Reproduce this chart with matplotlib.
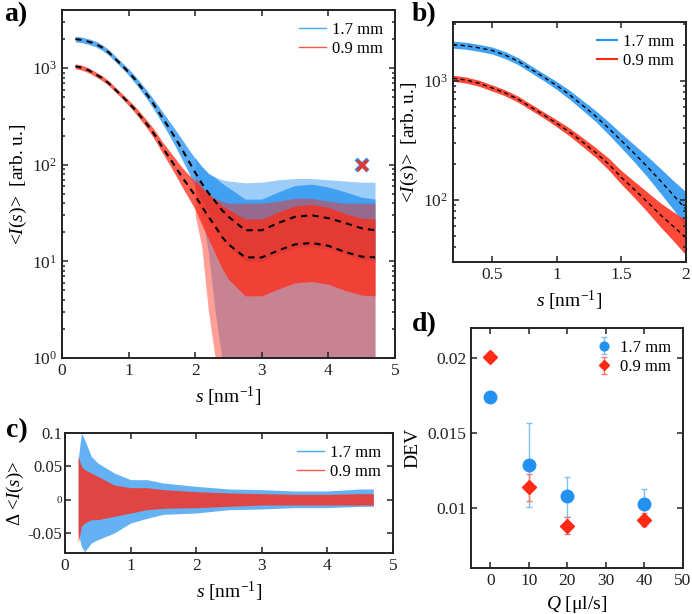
import numpy as np
import matplotlib
matplotlib.use("Agg")
from matplotlib import pyplot as plt
from matplotlib.lines import Line2D

plt.rcParams['font.family'] = ['Liberation Serif', 'DejaVu Serif']
plt.rcParams['mathtext.fontset'] = 'custom'
plt.rcParams['mathtext.rm'] = 'Liberation Serif'
plt.rcParams['mathtext.it'] = 'Liberation Serif:italic'
plt.rcParams['axes.linewidth'] = 1.4
plt.rcParams['axes.edgecolor'] = '#222222'

BLUE = '#2291f0'
RED = '#ff2a16'

s = [0.2, 0.3, 0.4, 0.5, 0.6, 0.7, 0.8, 0.9, 1.0, 1.1, 1.2, 1.3, 1.4, 1.5, 1.6, 1.7, 1.8, 1.9, 2.0,
     2.1, 2.2, 2.3, 2.4, 2.5, 2.75, 3.0, 3.25, 3.5, 3.75, 4.0, 4.25, 4.5, 4.7]
blue_fit = [2000, 1960, 1880, 1790, 1640, 1460, 1250, 1070, 910, 760, 620, 505, 400, 313, 245, 190, 145, 110, 83,
            64, 51, 42, 34, 29, 21, 21, 25, 29, 30, 28, 25, 22, 21]
red_fit = [1045, 1010, 950, 868, 790, 700, 600, 515, 438, 370, 305, 250, 200, 154, 122, 96, 75, 60, 48,
           37, 29, 23, 18, 15, 11, 11, 13, 15, 15.5, 14.5, 12.5, 11.2, 11]
# spread of the noisy traces around the fits (multiplicative)
blue_spread = [1.07, 1.07, 1.07, 1.07, 1.07, 1.07, 1.07, 1.07, 1.08, 1.09, 1.1, 1.11, 1.13, 1.15, 1.18, 1.22, 1.27, 1.32, 1.4,
               1.5, 1.6, 1.75, 1.9, 2.0, 2.1, 2.1, 2.1, 2.1, 2.1, 2.1, 2.1, 2.1, 2.1]
red_spread = [1.06, 1.06, 1.06, 1.06, 1.06, 1.06, 1.06, 1.06, 1.07, 1.08, 1.09, 1.1, 1.12, 1.14, 1.17, 1.21, 1.26, 1.32, 1.4,
              1.55, 1.7, 1.9, 2.1, 2.3, 2.5, 2.5, 2.5, 2.5, 2.5, 2.5, 2.5, 2.5, 2.5]
# extent of the sparse spikes at high s
s_spk = [2.0, 2.1, 2.2, 2.3, 2.4, 2.5, 2.75, 3.0, 3.25, 3.5, 3.75, 4.0, 4.25, 4.5, 4.7]
blue_spk_hi = [120, 95, 80, 75, 70, 68, 65, 66, 70, 72, 72, 70, 68, 66, 66]
blue_spk_lo = [55, 30, 12, 3, 1, 1, 1, 1, 1, 1, 1, 1, 1, 1, 1]
red_spk_hi = [75, 60, 50, 45, 42, 40, 40, 40, 42, 45, 45, 42, 40, 40, 40]
red_spk_lo = [30, 14, 3, 1, 1, 1, 1, 1, 1, 1, 1, 1, 1, 1, 1]

# residuals (panel c)
s_c = [0.2, 0.25, 0.3, 0.4, 0.5, 0.75, 1.0, 1.25, 1.5, 2.0, 2.5, 3.0, 3.5, 4.0, 4.5, 4.7]
res_blue_hi = [0.06, 0.1, 0.09, 0.065, 0.055, 0.04, 0.03, 0.03, 0.025, 0.02, 0.016, 0.015, 0.013, 0.013, 0.016, 0.016]
res_blue_lo = [-0.05, -0.07, -0.078, -0.065, -0.06, -0.05, -0.035, -0.028, -0.022, -0.02, -0.015, -0.014, -0.012, -0.012, -0.01, -0.01]
res_red_hi = [0.065, 0.05, 0.045, 0.04, 0.035, 0.022, 0.018, 0.018, 0.015, 0.012, 0.01, 0.009, 0.008, 0.008, 0.009, 0.009]
res_red_lo = [-0.065, -0.04, -0.035, -0.03, -0.03, -0.025, -0.02, -0.015, -0.013, -0.012, -0.01, -0.008, -0.008, -0.008, -0.008, -0.008]

# DEV vs flow rate (panel d)
Q = [0, 10, 20, 40]
dev_blue = [0.0174, 0.0129, 0.0108, 0.0103]
dev_blue_up = [0.0001, 0.0028, 0.0013, 0.0010]
dev_blue_dn = [0.0001, 0.0028, 0.0014, 0.0010]
dev_red = [0.0201, 0.0114, 0.0088, 0.0092]
dev_red_up = [0.0003, 0.0009, 0.0006, 0.0005]
dev_red_dn = [0.0003, 0.0009, 0.0005, 0.0004]

W, H = 692, 614
fig = plt.figure(figsize=(W / 100, H / 100), dpi=100)

bf, rf = np.array(blue_fit), np.array(red_fit)
bsp, rsp = np.array(blue_spread), np.array(red_spread)


def box(l, r, t, b):
    return [l / W, 1 - b / H, (r - l) / W, (b - t) / H]


def style(ax):
    ax.tick_params(direction='in', which='both', top=True, right=True, labelsize=12.5,
                   length=4, width=1.1, colors='#222222')
    ax.tick_params(which='minor', length=2.5)


ylab = r'<$I$($s$)>  [arb. u.]'
xlab = r'$s$ [nm$^{\mathregular{-1}}$]'
dash = (0, (3, 2.5))

# a)
ax = fig.add_axes(box(62, 395, 10, 358))
ax.fill_between(s_spk, blue_spk_lo, blue_spk_hi, color=BLUE, alpha=0.45, lw=0)
ax.fill_between(s, bf / bsp, bf * bsp, color=BLUE, alpha=0.75, lw=0)
ax.fill_between(s_spk, red_spk_lo, red_spk_hi, color=RED, alpha=0.45, lw=0)
ax.fill_between(s, rf / rsp, rf * rsp, color=RED, alpha=0.75, lw=0)
ax.plot(s, blue_fit, ls=dash, color='k', lw=1.5)
ax.plot(s, red_fit, ls=dash, color='k', lw=1.5)
ax.plot([4.5], [100], 'x', color=BLUE, ms=8, mew=3)
ax.plot([4.5], [100], 'x', color=RED, ms=7, mew=2.5, alpha=0.85)
ax.set_yscale('log')
ax.set_xlim(0, 5)
ax.set_ylim(1, 4000)
ax.set_xlabel(xlab, fontsize=14)
ax.set_ylabel(ylab, fontsize=14, labelpad=2)
style(ax)
h = [Line2D([], [], color=BLUE, lw=1, alpha=0.8), Line2D([], [], color=RED, lw=1, alpha=0.8)]
ax.legend(h, ['1.7 mm', '0.9 mm'], loc='upper right', frameon=False, fontsize=12,
          handlelength=1.6, handletextpad=0.4, borderaxespad=0.3, labelspacing=0.2)

# b)
ax = fig.add_axes(box(453, 686, 22, 262))
ax.fill_between(s, bf / bsp, bf * bsp, color=BLUE, alpha=0.85, lw=0)
ax.fill_between(s, rf / rsp, rf * rsp, color=RED, alpha=0.85, lw=0)
ax.plot(s, blue_fit, ls=dash, color='k', lw=1.0)
ax.plot(s, red_fit, ls=dash, color='k', lw=1.0)
ax.set_yscale('log')
ax.set_xlim(0.2, 2)
ax.set_ylim(30, 3100)
ax.set_xticks([0.5, 1, 1.5, 2])
ax.set_xticklabels(['0.5', '1', '1.5', '2'])
ax.set_xlabel(xlab, fontsize=14)
ax.set_ylabel(ylab, fontsize=14, labelpad=2)
style(ax)
h = [Line2D([], [], color=BLUE, lw=1.5), Line2D([], [], color=RED, lw=1.5)]
ax.legend(h, ['1.7 mm', '0.9 mm'], loc='upper right', frameon=False, fontsize=12,
          handlelength=1.2, handletextpad=0.4, borderaxespad=0.3, labelspacing=0.2)

# c)
ax = fig.add_axes(box(65, 393, 433, 553))
ax.fill_between(s_c, res_blue_lo, res_blue_hi, color=BLUE, alpha=0.7, lw=0)
ax.fill_between(s_c, res_red_lo, res_red_hi, color=RED, alpha=0.8, lw=0)
ax.set_xlim(0, 5)
ax.set_ylim(-0.08, 0.1)
ax.set_yticks([-0.05, 0, 0.05, 0.1])
ax.set_yticklabels(['-0.05', '0', '0.05', '0.1'])
ax.set_xlabel(xlab, fontsize=14)
ax.set_ylabel(r'$\Delta$ <$I$($s$)>', fontsize=13.5, labelpad=1)
style(ax)
ax.tick_params(axis='y', labelsize=12, pad=2)
ax.get_yticklabels()[1].set_fontsize(8)
h = [Line2D([], [], color=BLUE, lw=1, alpha=0.8), Line2D([], [], color=RED, lw=1, alpha=0.8)]
ax.legend(h, ['1.7 mm', '0.9 mm'], loc='upper right', frameon=False, fontsize=12,
          handlelength=1.6, handletextpad=0.4, borderaxespad=0.3, labelspacing=0.2)

# d)
ax = fig.add_axes(box(471, 683, 328, 568))
ax.errorbar(Q, dev_blue, yerr=[dev_blue_dn, dev_blue_up], fmt='o', color=BLUE, ms=9,
            elinewidth=1, capsize=2.5, ecolor='#7fc0f5', label='1.7 mm')
ax.errorbar(Q, dev_red, yerr=[dev_red_dn, dev_red_up], fmt='D', color=RED, ms=7,
            elinewidth=1, capsize=2.5, ecolor='#f07a6e', label='0.9 mm')
ax.set_xlim(-5, 50)
ax.set_ylim(0.006, 0.022)
ax.set_xticks([0, 10, 20, 30, 40, 50])
ax.set_yticks([0.01, 0.015, 0.02])
ax.set_yticklabels(['0.01', '0.015', '0.02'])
ax.set_xlabel(r'$Q$ [μl/s]', fontsize=14)
ax.set_ylabel('DEV', fontsize=14)
style(ax)
ax.legend(loc='upper right', frameon=False, fontsize=12, markerscale=0.7,
          handlelength=1.0, handletextpad=0.5, borderaxespad=0.3, labelspacing=0.2)

for lab, x, y in [('a)', 4, 2), ('b)', 412, 2), ('c)', 6, 418), ('d)', 412, 312)]:
    fig.text(x / W, 1 - y / H, lab, fontsize=20, fontweight='bold', va='top', ha='left')

fig.savefig('out.png', dpi=100)
